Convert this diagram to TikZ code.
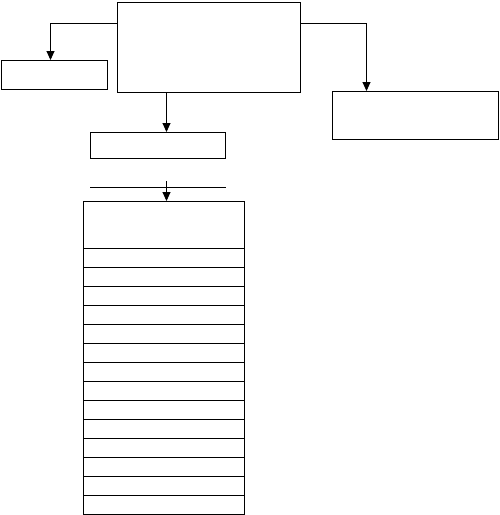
\documentclass[tikz,border=0pt]{standalone}
\usetikzlibrary{arrows.meta}
\begin{document}
\begin{tikzpicture}[x=1pt,y=-1pt,
  box/.style={draw,line width=0.9pt,inner sep=0pt,rectangle},
  conn/.style={line width=0.9pt},
  arr/.style={conn,-{Triangle[length=9pt,width=8pt]}}]
\useasboundingbox (0,0) rectangle (499,515);
% main box
\node[box,minimum width=183pt,minimum height=90pt,anchor=north west] (main) at (117,1.5) {};
% left box
\node[box,minimum width=106pt,minimum height=29pt,anchor=north west] (left) at (0.5,60) {};
% right box
\node[box,minimum width=166pt,minimum height=48pt,anchor=north west] (right) at (332,91) {};
% middle box
\node[box,minimum width=135pt,minimum height=26pt,anchor=north west] (mid) at (90,132) {};
% horizontal line
\coordinate (hl1) at (90,187);
\coordinate (hl2) at (226,187);
\draw[conn] (hl1) -- (hl2);
\coordinate (astart) at (166.5,181);
% table
\node[box,minimum width=161pt,minimum height=47pt,anchor=north west] (t0) at (83,201) {};
\foreach \i in {1,...,14}{
  \pgfmathsetmacro{\yy}{248+(\i-1)*19}
  \node[box,minimum width=161pt,minimum height=19pt,anchor=north west] (t\i) at (83,\yy) {};
}
% connectors
\coordinate (lc) at (50.5,23);
\coordinate (rc) at (366.5,23);
\draw[arr] (main.west |- lc) -| (left.north -| lc);
\draw[arr] (main.east |- rc) -| (right.north -| rc);
\draw[arr] (main.south -| astart) -- (mid.north -| astart);
\draw[arr] (astart) -- (t0.north -| astart);
\end{tikzpicture}
\end{document}
